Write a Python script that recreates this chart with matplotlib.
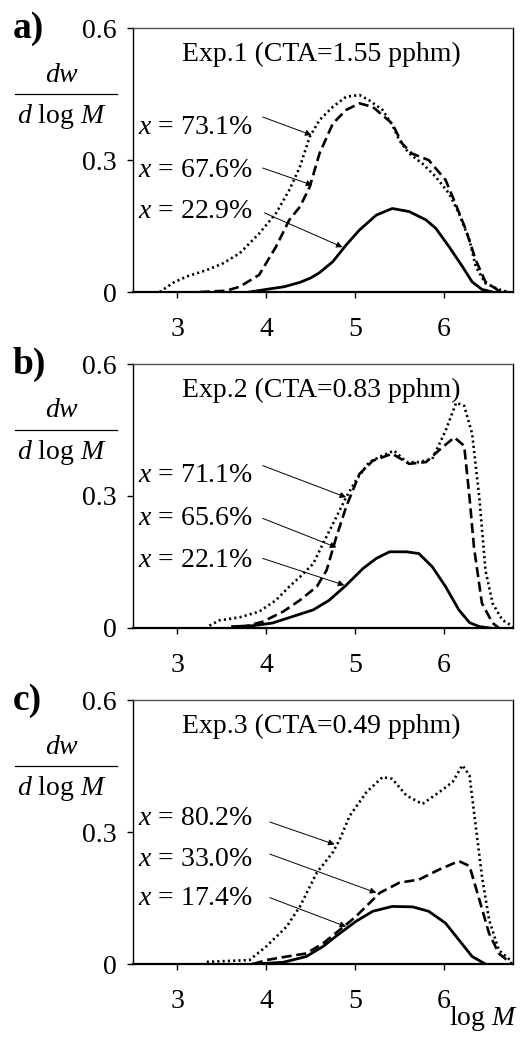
import matplotlib
matplotlib.use("Agg")
import matplotlib.pyplot as plt
from matplotlib.lines import Line2D

plt.rcParams['font.family'] = ['Liberation Serif', 'DejaVu Serif']
plt.rcParams['mathtext.fontset'] = 'custom'
plt.rcParams['mathtext.rm'] = 'Liberation Serif'
plt.rcParams['mathtext.it'] = 'Liberation Serif:italic'
plt.rcParams['mathtext.bf'] = 'Liberation Serif:bold'

# ---- data (log M vs dw/dlogM) ----
# panel a) Exp.1
a_solid_x = [3.81, 4.0, 4.2, 4.38, 4.5, 4.6, 4.75, 4.9, 5.05, 5.24, 5.42, 5.61, 5.8, 5.91, 6.06, 6.21, 6.32, 6.43, 6.55]
a_solid_y = [0.0, 0.006, 0.012, 0.022, 0.032, 0.044, 0.069, 0.107, 0.141, 0.175, 0.19, 0.183, 0.164, 0.145, 0.103,
             0.058, 0.023, 0.006, 0.0]
a_dot_x = [2.8, 2.95, 3.1, 3.33, 3.51, 3.7, 3.92, 4.11, 4.26, 4.38, 4.49, 4.6, 4.75, 4.9, 5.05, 5.16, 5.31,
           5.42, 5.5, 5.61, 5.76, 5.91, 6.06, 6.17, 6.29, 6.36, 6.47, 6.62, 6.73]
a_dot_y = [0.0, 0.021, 0.035, 0.05, 0.065, 0.088, 0.133, 0.179, 0.232, 0.285, 0.353, 0.391, 0.421, 0.444, 0.448,
           0.436, 0.414, 0.38, 0.345, 0.315, 0.292, 0.262, 0.224, 0.179, 0.118, 0.058, 0.02, 0.006, 0.0]
a_dash_x = [3.25, 3.55, 3.7, 3.92, 4.11, 4.26, 4.38, 4.49, 4.6, 4.75, 4.9, 5.05, 5.2, 5.42, 5.53, 5.64, 5.83,
            6.02, 6.13, 6.25, 6.36, 6.47, 6.62, 6.7]
a_dash_y = [0.0, 0.003, 0.012, 0.039, 0.103, 0.164, 0.194, 0.239, 0.315, 0.383, 0.414, 0.429, 0.421, 0.383,
            0.338, 0.315, 0.3, 0.255, 0.202, 0.141, 0.073, 0.023, 0.003, 0.0]

# panel b) Exp.2
b_solid_x = [3.62, 3.85, 4.07, 4.3, 4.53, 4.71, 4.9, 5.09, 5.24, 5.39, 5.58, 5.72, 5.87, 6.02, 6.17, 6.29, 6.4, 6.51]
b_solid_y = [0.003, 0.005, 0.011, 0.026, 0.041, 0.063, 0.097, 0.135, 0.158, 0.173, 0.173, 0.169, 0.139, 0.094,
             0.041, 0.012, 0.003, 0.0]
b_dot_x = [3.36, 3.47, 3.7, 3.92, 4.11, 4.26, 4.38, 4.53, 4.64, 4.79, 4.9, 5.01, 5.16, 5.31, 5.44, 5.58, 5.72,
           5.87, 6.02, 6.14, 6.23, 6.32, 6.4, 6.47, 6.55, 6.66, 6.78]
b_dot_y = [0.005, 0.017, 0.024, 0.037, 0.063, 0.094, 0.116, 0.146, 0.192, 0.252, 0.297, 0.335, 0.377, 0.392,
           0.403, 0.377, 0.377, 0.384, 0.448, 0.512, 0.505, 0.441, 0.297, 0.131, 0.056, 0.018, 0.003]
b_dash_x = [3.7, 3.96, 4.19, 4.38, 4.57, 4.68, 4.79, 4.9, 5.05, 5.2, 5.42, 5.61, 5.8, 5.98, 6.12, 6.23, 6.29,
            6.34, 6.43, 6.55, 6.62]
b_dash_y = [0.0, 0.014, 0.037, 0.063, 0.094, 0.131, 0.207, 0.275, 0.35, 0.38, 0.396, 0.373, 0.377, 0.41, 0.433,
            0.414, 0.297, 0.184, 0.056, 0.011, 0.0]

# panel c) Exp.3
c_solid_x = [3.85, 4.19, 4.45, 4.64, 4.83, 5.01, 5.2, 5.42, 5.65, 5.83, 6.02, 6.17, 6.32, 6.47]
c_solid_y = [0.0, 0.004, 0.017, 0.04, 0.07, 0.097, 0.12, 0.131, 0.13, 0.12, 0.093, 0.055, 0.017, 0.0]
c_dot_x = [3.33, 3.81, 4.0, 4.23, 4.38, 4.57, 4.75, 4.83, 4.94, 5.13, 5.31, 5.42, 5.58, 5.76, 5.95, 6.1, 6.21,
           6.29, 6.36, 6.43, 6.51, 6.62, 6.77]
c_dot_y = [0.005, 0.009, 0.04, 0.085, 0.131, 0.208, 0.254, 0.284, 0.337, 0.391, 0.425, 0.421, 0.383, 0.364,
           0.391, 0.414, 0.452, 0.429, 0.314, 0.2, 0.101, 0.032, 0.005]
c_dash_x = [3.85, 4.0, 4.23, 4.45, 4.64, 4.83, 5.01, 5.28, 5.5, 5.72, 5.95, 6.17, 6.29, 6.4, 6.51, 6.62, 6.77]
c_dash_y = [0.0, 0.009, 0.017, 0.024, 0.047, 0.078, 0.108, 0.162, 0.185, 0.192, 0.215, 0.234, 0.223, 0.147,
            0.07, 0.024, 0.0]

panel_letters = ['a)', 'b)', 'c)']
panel_titles = ['Exp.1 (CTA=1.55 pphm)', 'Exp.2 (CTA=0.83 pphm)', 'Exp.3 (CTA=0.49 pphm)']
conversions_a = ['73.1%', '67.6%', '22.9%']   # dotted, dashed, solid
conversions_b = ['71.1%', '65.6%', '22.1%']
conversions_c = ['80.2%', '33.0%', '17.4%']
x_ticks = [3, 4, 5, 6]
y_ticks = [0, 0.3, 0.6]
y_ticklabels = ['0', '0.3', '0.6']

# label / arrow placement (data coords): text y, arrow start, arrow end
label_pos = [
    ([0.373, 0.277, 0.182], [(3.96, 0.398), (3.96, 0.282), (3.98, 0.180)],
     [(4.51, 0.357), (4.52, 0.243), (4.86, 0.102)]),
    ([0.346, 0.249, 0.154], [(3.96, 0.369), (3.96, 0.249), (3.96, 0.158)],
     [(4.90, 0.297), (4.79, 0.183), (4.88, 0.097)]),
    ([0.330, 0.238, 0.150], [(4.04, 0.323), (4.04, 0.250), (4.04, 0.151)],
     [(4.77, 0.272), (5.24, 0.162), (4.90, 0.085)]),
]

curves = [
    [(a_dot_x, a_dot_y), (a_dash_x, a_dash_y), (a_solid_x, a_solid_y)],
    [(b_dot_x, b_dot_y), (b_dash_x, b_dash_y), (b_solid_x, b_solid_y)],
    [(c_dot_x, c_dot_y), (c_dash_x, c_dash_y), (c_solid_x, c_solid_y)],
]
conversions = [conversions_a, conversions_b, conversions_c]
styles = [dict(ls=(0, (0.8, 1.2)), lw=1.9),
          dict(ls=(0, (3.8, 1.8)), lw=1.9),
          dict(ls='-', lw=2.0)]

fig = plt.figure(figsize=(5.24, 10.43), dpi=100)
bottoms = [0.720, 0.398, 0.0757]
fs = 20

for i in range(3):
    ax = fig.add_axes([0.254, bottoms[i], 0.725, 0.253])
    for (xs, ys), st in zip(curves[i], styles):
        ax.plot(xs, ys, color='black', solid_joinstyle='round', dash_joinstyle='round', **st)

    ax.set_xlim(2.5, 6.78)
    ax.set_ylim(0, 0.6)
    ax.set_xticks(x_ticks)
    ax.set_xticklabels([str(t) for t in x_ticks])
    ax.set_yticks(y_ticks)
    ax.set_yticklabels(y_ticklabels)
    ax.tick_params(axis='both', direction='out', length=4, width=1, labelsize=fs, colors='black')
    ax.tick_params(axis='x', pad=14)
    ax.tick_params(axis='y', pad=8)
    for side in ['left', 'right']:
        ax.spines[side].set_linewidth(1.0)
    ax.spines['top'].set_linewidth(1.0)
    ax.spines['top'].set_color('#555555')
    ax.spines['bottom'].set_linewidth(1.6)

    ax.text(0.495, 0.90, panel_titles[i], transform=ax.transAxes, ha='center', va='center', fontsize=fs)
    ax.text(-0.318, 1.0, panel_letters[i], transform=ax.transAxes, ha='left', va='center',
            fontsize=27, fontweight='bold')

    # dw / dlogM fraction
    ax.text(-0.187, 0.822, r'$dw$', transform=ax.transAxes, ha='center', va='center', fontsize=fs)
    ax.text(-0.187, 0.665, r'$d$ log $M$', transform=ax.transAxes, ha='center', va='center', fontsize=fs)
    ax.add_line(Line2D([-0.311, -0.042], [0.75, 0.75], transform=ax.transAxes, color='black',
                       lw=0.9, clip_on=False))

    ty, starts, ends = label_pos[i]
    for j in range(3):
        ax.text(2.55, ty[j], r'$x$ = ' + conversions[i][j], ha='left', va='center', fontsize=fs)
        ax.annotate('', xy=ends[j], xytext=starts[j],
                    arrowprops=dict(arrowstyle='-|>', lw=0.7, color='black',
                                    mutation_scale=9, shrinkA=0, shrinkB=0))

fig.text(0.989, 0.0173, r'log $M$', ha='right', va='baseline', fontsize=fs)

fig.savefig('out.png', dpi=100, facecolor='white')
